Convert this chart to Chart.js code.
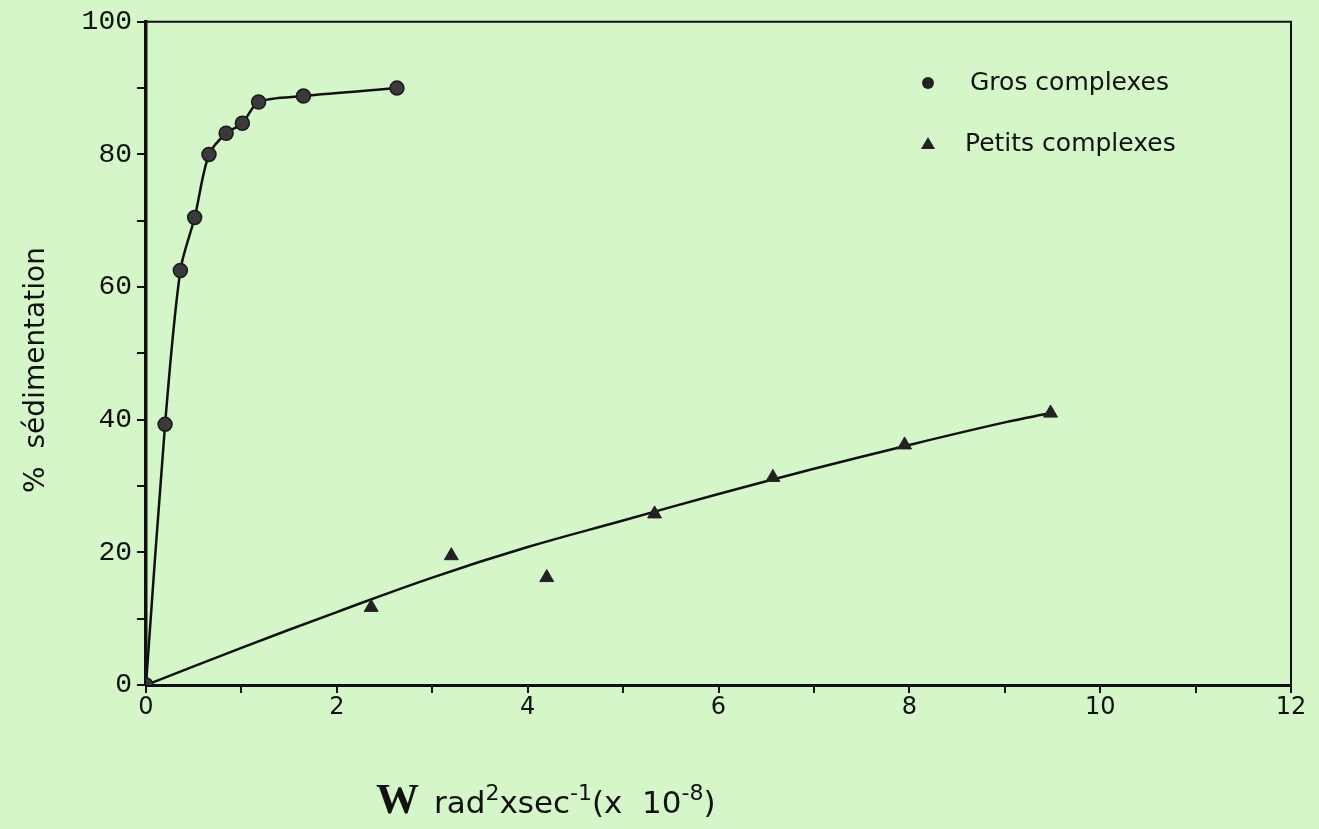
<!DOCTYPE html>
<html>
<head>
<meta charset="utf-8">
<script src="https://cdn.jsdelivr.net/npm/chart.js@4/dist/chart.umd.min.js"></script>
<style>
  html, body { margin: 0; padding: 0; background: #d5f6c9; }
  #wrap { width: 1319px; height: 829px; }
</style>
</head>
<body>
<div id="wrap"><canvas id="c" width="1319" height="829"></canvas></div>
<script>
// ---- data ----
const grosX = [0, 0.20, 0.36, 0.51, 0.66, 0.84, 1.01, 1.18, 1.65, 2.63];
const grosY = [0, 39.3, 62.5, 70.5, 80.0, 83.2, 84.7, 87.9, 88.8, 90.0];

const petitsX = [0, 2.36, 3.20, 4.20, 5.33, 6.57, 7.95, 9.48];
const petitsY = [0, 11.7, 19.5, 16.2, 25.8, 31.3, 36.2, 41.0];

// fitted curve through the "petits complexes" points, as traced on the picture
const petitsFitX = [0, 1, 2, 3, 4, 5, 6, 7, 8, 9, 9.48];
const petitsFitY = [0, 5.6, 11.0, 16.2, 20.8, 24.8, 28.8, 32.6, 36.2, 39.6, 41.0];

const xTickLabels = [0, 2, 4, 6, 8, 10, 12];
const yTickLabels = [0, 20, 40, 60, 80, 100];

const seriesNames = ['Gros complexes', 'Petits complexes'];
const yTitle = '%  sédimentation';

const toPts = (xs, ys) => xs.map((x, i) => ({ x: x, y: ys[i] }));

const bgPlugin = {
  id: 'bg',
  beforeDraw(chart) {
    const ctx = chart.ctx;
    ctx.save();
    ctx.fillStyle = '#d5f6c9';
    ctx.fillRect(0, 0, chart.width, chart.height);
    ctx.restore();
  },
  beforeDatasetsDraw(chart) {
    const a = chart.chartArea, ctx = chart.ctx;
    ctx.save();
    ctx.strokeStyle = '#111';
    ctx.lineWidth = 2;
    ctx.beginPath();
    ctx.moveTo(a.left, a.top);
    ctx.lineTo(a.right, a.top);
    ctx.lineTo(a.right, a.bottom);
    ctx.stroke();
    ctx.restore();
  },
  afterDraw(chart) {
    const ctx = chart.ctx;
    ctx.save();
    ctx.fillStyle = '#111';
    // legend
    const items = chart.data.datasets.filter(d => d.inLegend);
    const lx = 928, ly0 = 83, dy = 61;
    items.forEach((d, i) => {
      const y = ly0 + i * dy;
      ctx.fillStyle = '#222';
      ctx.beginPath();
      if (d.pointStyle === 'triangle') {
        ctx.moveTo(lx, y - 7); ctx.lineTo(lx + 7, y + 5); ctx.lineTo(lx - 7, y + 5); ctx.closePath();
      } else {
        ctx.arc(lx, y, 6, 0, Math.PI * 2);
      }
      ctx.fill();
      ctx.fillStyle = '#111';
      ctx.font = '25px "DejaVu Sans"';
      ctx.textBaseline = 'middle';
      ctx.textAlign = 'left';
      ctx.fillText(d.label, i === 0 ? 970 : 965, y);
    });
    // y title
    ctx.save();
    ctx.translate(37, 370);
    ctx.rotate(-Math.PI / 2);
    ctx.font = '28px "DejaVu Sans"';
    ctx.textAlign = 'center';
    ctx.textBaseline = 'middle';
    ctx.fillText(yTitle, 0, 0);
    ctx.restore();
    // x title
    let x = 376; const base = 813;
    ctx.textBaseline = 'alphabetic';
    ctx.textAlign = 'left';
    ctx.font = 'bold 43px "Liberation Serif"';
    ctx.fillText('W', x, base);
    x += ctx.measureText('W').width + 15;
    const parts = [['rad', 0], ['2', 1], ['xsec', 0], ['-1', 1], ['(x  10', 0], ['-8', 1], [')', 0]];
    parts.forEach(p => {
      ctx.font = p[1] ? '22px "DejaVu Sans"' : '31px "DejaVu Sans"';
      ctx.fillText(p[0], x, p[1] ? base - 13 : base);
      x += ctx.measureText(p[0]).width;
    });
    ctx.restore();
  }
};

new Chart(document.getElementById('c'), {
  type: 'line',
  data: {
    datasets: [
      {
        label: seriesNames[0],
        inLegend: true,
        data: toPts(grosX, grosY),
        showLine: true,
        tension: 0.3,
        borderColor: '#111',
        borderWidth: 2.5,
        pointStyle: 'circle',
        pointRadius: 7,
        pointBackgroundColor: '#3a3a3a',
        pointBorderColor: '#1a1a1a',
        pointBorderWidth: 1.5,
        fill: false
      },
      {
        label: seriesNames[1],
        inLegend: true,
        data: toPts(petitsX, petitsY),
        showLine: false,
        pointStyle: 'triangle',
        pointRadius: 8,
        pointBackgroundColor: '#222',
        pointBorderColor: '#222',
        pointBorderWidth: 1,
        fill: false
      },
      {
        label: seriesNames[1] + ' (courbe)',
        inLegend: false,
        data: toPts(petitsFitX, petitsFitY),
        showLine: true,
        tension: 0.4,
        borderColor: '#111',
        borderWidth: 2.5,
        pointRadius: 0,
        fill: false
      }
    ]
  },
  options: {
    responsive: false,
    animation: false,
    layout: { padding: { left: 0, right: 28, top: 18, bottom: 0 } },
    plugins: { legend: { display: false }, tooltip: { enabled: false } },
    scales: {
      x: {
        type: 'linear',
        min: 0, max: 12,
        afterFit(s) { s.height = 144; },
        ticks: {
          stepSize: 1, autoSkip: false, maxRotation: 0, padding: 0,
          color: '#111',
          font: { family: '"DejaVu Sans"', size: 24 },
          callback: v => (xTickLabels.includes(v) ? String(v) : '')
        },
        grid: { drawOnChartArea: false, drawTicks: true, tickLength: 8, color: '#111', lineWidth: 2 },
        border: { display: true, color: '#111', width: 3 }
      },
      y: {
        type: 'linear',
        min: 0, max: 100,
        afterFit(s) { s.width = 146; },
        ticks: {
          stepSize: 10, autoSkip: false, padding: 5,
          color: '#111',
          font: { family: '"Liberation Mono"', size: 28 },
          callback: v => (yTickLabels.includes(v) ? String(v) : '')
        },
        grid: { drawOnChartArea: false, drawTicks: true, tickLength: 9, color: '#111', lineWidth: 2 },
        border: { display: true, color: '#111', width: 3.5 }
      }
    }
  },
  plugins: [bgPlugin]
});
</script>
</body>
</html>
